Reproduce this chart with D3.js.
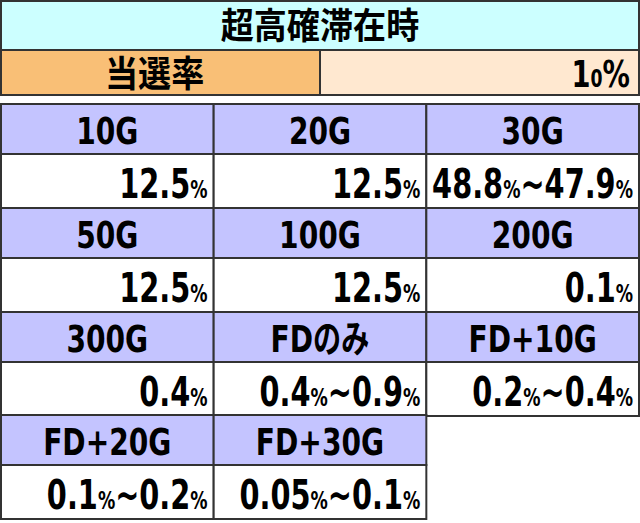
<!DOCTYPE html><html><head><meta charset="utf-8"><script src="https://cdn.jsdelivr.net/npm/d3@7"></script>
<style>body{margin:0;background:#fff}text{font-family:"DejaVu Sans","Noto Sans CJK JP",sans-serif;font-weight:bold;fill:#000}</style></head><body>
<script>
const title = "超高確滞在時";
const rateLabel = "当選率";
const rateValue = [["100","%"]];
const categories = ["10G","20G","30G","50G","100G","200G","300G","FDのみ","FD+10G","FD+20G","FD+30G"];
const values = [
 [["12.5","%"]],[["12.5","%"]],[["48.8","%"],["~47.9","%"]],
 [["12.5","%"]],[["12.5","%"]],[["0.1","%"]],
 [["0.4","%"]],[["0.4","%"],["~0.9","%"]],[["0.2","%"],["~0.4","%"]],
 [["0.1","%"],["~0.2","%"]],[["0.05","%"],["~0.1","%"]]
];
const W=640,H=523;
const svg=d3.select("body").append("svg").attr("width",W).attr("height",H);
const stroke="#333";
// text with horizontal compression; anchor: start|middle|end; maxW fits
function label(parent,x,y,anchor,parts,big,small,sx,maxW){
  const g=parent.append("g");
  const t=g.append("text");
  parts.forEach(p=>{t.append("tspan").style("font-size",big+"px").text(p[0]);
    if(p[1]) t.append("tspan").style("font-size",small+"px").text(p[1]);});
  let w=t.node().getComputedTextLength();
  let s=sx; if(maxW && w*s>maxW) s=maxW/w;
  const off=anchor==="end"?-w*s:anchor==="middle"?-w*s/2:0;
  g.attr("transform",`translate(${x+off},${y}) scale(${s},1)`);
}
svg.append("rect").attr("x",1).attr("y",1).attr("width",638).attr("height",49).attr("fill","#ccffff").attr("stroke",stroke).attr("stroke-width",2);
label(svg,320,39,"middle",[[title,""]],36,0,0.92);
svg.append("rect").attr("x",1).attr("y",50).attr("width",319).attr("height",45).attr("fill","#f9bf76").attr("stroke",stroke).attr("stroke-width",2);
svg.append("rect").attr("x",320).attr("y",50).attr("width",319).attr("height",45).attr("fill","#ffe8d0").attr("stroke",stroke).attr("stroke-width",2);
label(svg,105,87,"start",[[rateLabel,""]],36,0,0.92);
label(svg,630,87,"end",rateValue[0],38,24,0.72);
const x=d3.scaleBand().domain([0,1,2]).range([1,639]);
const rowTops=[104,208,312,415], hh=50, vh=54;
categories.forEach((c,i)=>{
  const col=i%3,row=Math.floor(i/3),x0=x(col),w=x.bandwidth(),y0=rowTops[row];
  const g=svg.append("g");
  g.append("rect").attr("x",x0).attr("y",y0).attr("width",w).attr("height",hh).attr("fill","#c4c4ff").attr("stroke",stroke).attr("stroke-width",2);
  g.append("rect").attr("x",x0).attr("y",y0+hh).attr("width",w).attr("height",vh).attr("fill","#fff").attr("stroke",stroke).attr("stroke-width",2);
  label(g,x0+w/2,y0+40,"middle",[[c,""]],38,0,0.74);
  label(g,x0+w-6,y0+hh+44,"end",values[i],40,24,0.72,w-10);
});
</script></body></html>
